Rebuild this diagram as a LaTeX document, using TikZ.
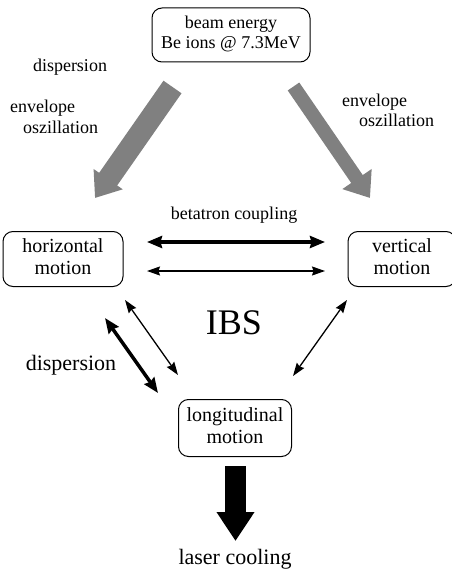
\documentclass[tikz,border=0pt]{standalone}
\usepackage{fontspec}
\setmainfont{Liberation Serif}
\usetikzlibrary{arrows.meta}
\newcommand{\sbc}[2]{\scalebox{#1}{\begin{tabular}{@{}c@{}}#2\end{tabular}}}
\newcommand{\sbl}[2]{\scalebox{#1}{\begin{tabular}{@{}l@{}}#2\end{tabular}}}
\begin{document}
\begin{tikzpicture}[x=1pt,y=-1pt,
  font=\fontsize{18}{20}\selectfont,
  box/.style={draw, rounded corners=10pt, line width=1pt, align=center, inner sep=0pt},
  lbl/.style={inner sep=0pt},
  grayarrow/.style={draw=black!50, arrows={-Triangle[length=23pt,width=34pt]}},
  blackarrow/.style={draw=black, line width=21pt, arrows={-Triangle[length=29pt,width=36pt]}},
  dblthick/.style={line width=3.5pt, arrows={Stealth[length=15pt,width=12pt,inset=1.5pt]-Stealth[length=15pt,width=12pt,inset=1.5pt]}},
  dblthin/.style={line width=1.3pt, arrows={Stealth[length=13pt,width=9pt,inset=1.5pt]-Stealth[length=13pt,width=9pt,inset=1.5pt]}}
]
\useasboundingbox (0,0) rectangle (451,575);

% nodes
\node[box, minimum width=158pt, minimum height=54pt] (beam) at (231,35) {\sbc{1}{beam energy\\Be ions @ 7.3MeV}};
\node[box, minimum width=120pt, minimum height=55pt] (horiz) at (63,259) {\sbc{1.111}{horizontal\\motion}};
\node[box, minimum width=108pt, minimum height=55pt] (vert) at (402,259) {\sbc{1.111}{vertical\\motion}};
\node[box, minimum width=113pt, minimum height=57pt] (long) at (235,428) {\sbc{1.111}{longitudinal\\motion}};

% labels
\node[lbl] (disp1) at (70,68) {\sbc{1}{dispersion}};
\node[lbl, anchor=west] (env1) at (10,119) {\sbl{1}{envelope\\\hspace*{13pt}oszillation}};
\node[lbl, anchor=west] (env2) at (342,113) {\sbl{1}{envelope\\\hspace*{17pt}oszillation}};
\node[lbl] (beta) at (234,215) {\sbc{1}{betatron coupling}};
\node[lbl] (ibs) at (234,326) {\sbc{2}{IBS}};
\node[lbl] (disp2) at (71,366) {\sbc{1.222}{dispersion}};
\node[lbl] (laser) at (235,560) {\sbc{1.222}{laser cooling}};

% gray arrows
\coordinate (gl1) at (172.5,87);
\coordinate (gl2) at (95,198);
\coordinate (gr1) at (293.5,86.5);
\coordinate (gr2) at (370,198);
\draw[grayarrow, line width=22pt] (gl1) -- (gl2);
\draw[grayarrow, line width=14pt] (gr1) -- (gr2);

% horizontal coupling arrows
\coordinate (ha1) at (147,242);
\coordinate (ha2) at (325,242);
\coordinate (hb1) at (147,271);
\coordinate (hb2) at (325,271);
\draw[dblthick] (ha1) -- (ha2);
\draw[dblthin] (hb1) -- (hb2);

% diagonal arrows
\coordinate (da1) at (125,300);
\coordinate (da2) at (178,375);
\coordinate (db1) at (105,318);
\coordinate (db2) at (158,393);
\coordinate (dc1) at (347,300);
\coordinate (dc2) at (293,376);
\draw[dblthin] (da1) -- (da2);
\draw[dblthick] (db1) -- (db2);
\draw[dblthin] (dc1) -- (dc2);

% black arrow
\coordinate (bk1) at (235.5,466);
\coordinate (bk2) at (235.5,541);
\draw[blackarrow] (bk1) -- (bk2);
\end{tikzpicture}
\end{document}
